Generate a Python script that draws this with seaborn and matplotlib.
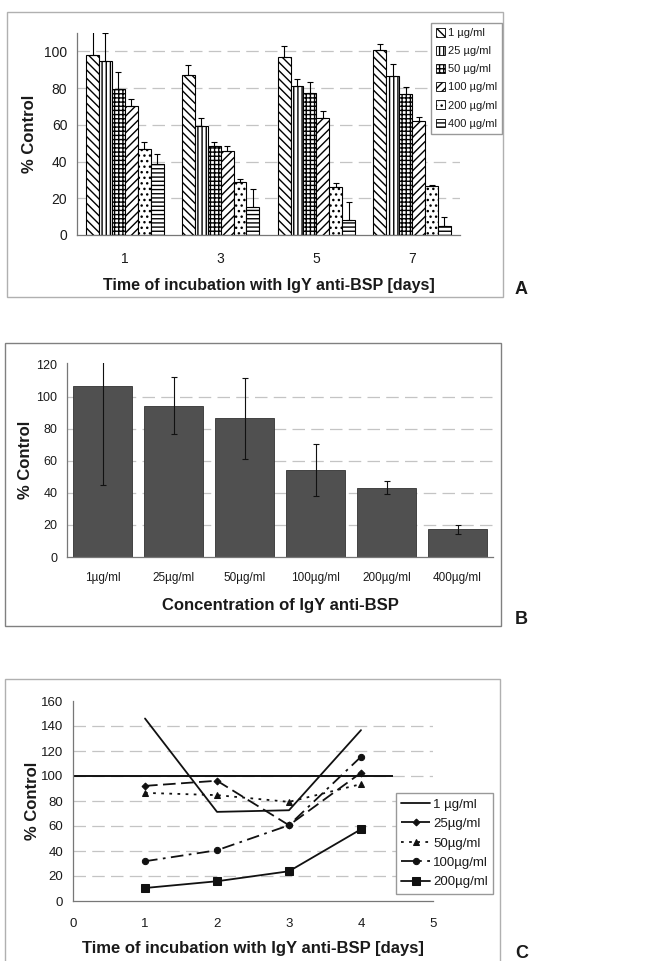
import matplotlib
matplotlib.use("Agg")
import matplotlib.pyplot as plt
from matplotlib.patches import Patch, Rectangle
import numpy as np
import pandas as pd
import seaborn as sns

# --- panel A: % control per day and concentration ---
days_a = ["1", "3", "5", "7"]
conc_a = ["1 µg/ml", "25 µg/ml", "50 µg/ml", "100 µg/ml", "200 µg/ml", "400 µg/ml"]
# one row per concentration, one column per day
pct_a = [
    [97.8, 87.3, 96.7, 100.9],
    [94.9, 59.5, 80.9, 86.7],
    [79.6, 48.5, 77.3, 76.7],
    [70.4, 45.8, 63.6, 62.2],
    [46.7, 28.7, 26.4, 26.7],
    [38.7, 15.5, 8.2, 4.9],
]
err_a = [
    [13.2, 5.4, 6.0, 3.1],
    [15.1, 4.1, 4.1, 6.6],
    [9.4, 2.4, 6.0, 3.8],
    [3.6, 2.9, 4.0, 2.3],
    [3.7, 1.7, 1.8, 0.4],
    [5.5, 9.5, 10.0, 4.7],
]
hatches_a = ["\\\\\\\\", "||||", "++++", "////", "...", "----"]

# --- panel B: mean over concentrations ---
conc_b = ["1µg/ml", "25µg/ml", "50µg/ml", "100µg/ml", "200µg/ml", "400µg/ml"]
pct_b = [106.6, 94.4, 86.6, 54.4, 43.3, 17.3]
sd_b = [61.6, 17.9, 25.3, 16.3, 4.0, 2.7]

# --- panel C: time course ---
days_c = [1, 2, 3, 4]
labels_c = ["1 µg/ml", "25µg/ml", "50µg/ml", "100µg/ml", "200µg/ml"]
c_1 = [146.0, 71.3, 72.6, 136.7]
c_25 = [92.1, 96.2, 60.6, 102.6]
c_50 = [86.5, 84.7, 79.3, 93.5]
c_100 = [31.8, 40.6, 60.6, 115.4]
c_200 = [10.4, 15.8, 23.8, 57.4]
ref_level = 100
ref_end = 4.45

sns.set_style("white")
plt.rcParams["font.family"] = ["Liberation Sans", "DejaVu Sans"]
plt.rcParams["hatch.linewidth"] = 1.0
plt.rcParams["text.color"] = "#1a1a1a"
plt.rcParams["axes.labelcolor"] = "#1a1a1a"
plt.rcParams["xtick.color"] = "#1a1a1a"
plt.rcParams["ytick.color"] = "#1a1a1a"

W, H = 654, 961
fig = plt.figure(figsize=(W / 100, H / 100), dpi=100)
fig.patch.set_facecolor("white")


def fig_axes(left, top, right, bottom):
    return fig.add_axes([left / W, 1 - bottom / H, (right - left) / W, (bottom - top) / H])


def frame(left, top, right, bottom, color):
    fig.patches.append(Rectangle((left / W, 1 - bottom / H), (right - left) / W, (bottom - top) / H,
                                 transform=fig.transFigure, fill=False, edgecolor=color, lw=1.0))


def style_axes(ax):
    sns.despine(ax=ax)
    for s in ["left", "bottom"]:
        ax.spines[s].set_color("#777777")
        ax.spines[s].set_linewidth(0.9)
    ax.set_axisbelow(True)
    ax.tick_params(axis="both", which="both", direction="out", color="#777777", length=3.5, width=0.8)


grid_kw = dict(color="#c4c4c4", lw=0.9, dashes=(10, 5))

# ---------------- A ----------------
frame(7, 12, 503, 297, "#b0b0b0")
ax = fig_axes(77, 33, 460, 235)
df_a = pd.DataFrame([(d, c, pct_a[i][j]) for i, c in enumerate(conc_a) for j, d in enumerate(days_a)],
                    columns=["day", "conc", "pct"])
sns.barplot(data=df_a, x="day", y="pct", hue="conc", order=days_a, hue_order=conc_a,
            palette=["white"] * len(conc_a), edgecolor="black", linewidth=0.8,
            width=0.81, gap=0, errorbar=None, legend=False, ax=ax)
bar_groups = list(ax.containers)
for i, cont in enumerate(bar_groups):
    xs, ys = [], []
    for p in cont.patches:
        p.set_hatch(hatches_a[i])
        xs.append(p.get_x() + p.get_width() / 2)
        ys.append(p.get_height())
    ax.errorbar(xs, ys, yerr=[np.zeros(len(ys)), err_a[i]], fmt="none",
                ecolor="black", elinewidth=0.8, capsize=2.5, capthick=0.8)
ax.set_ylim(0, 110)
ax.set_xlim(-0.5, len(days_a) - 0.5)
ax.set_yticks(range(0, 101, 20))
for v in range(20, 101, 20):
    ax.axhline(v, zorder=0, **grid_kw)
style_axes(ax)
ax.set_xticks(range(len(days_a)))
ax.set_xticks(np.arange(-0.5, len(days_a), 1), minor=True)
ax.tick_params(axis="x", which="major", length=0, labelsize=10, pad=12)
ax.tick_params(axis="y", labelsize=10)
ax.set_xlabel("Time of incubation with IgY anti-BSP [days]", fontsize=11.5, fontweight="bold", labelpad=9)
ax.set_ylabel("% Control", fontsize=12, fontweight="bold", labelpad=5)
handles_a = [Patch(facecolor="white", edgecolor="black", hatch=h, lw=0.6) for h in hatches_a]
fig.legend(handles_a, conc_a, loc="upper left", bbox_to_anchor=(431 / W, 1 - 23 / H),
           fontsize=8, frameon=True, fancybox=False, edgecolor="#999999", framealpha=1,
           handlelength=0.8, handleheight=0.8, handletextpad=0.25, labelspacing=0.72,
           borderpad=0.45, borderaxespad=0)
fig.text(515 / W, 1 - 290 / H, "A", fontsize=13, fontweight="bold", va="center")

# ---------------- B ----------------
frame(5, 343, 501, 626, "#808080")
ax = fig_axes(67, 363, 493, 557)
sns.barplot(x=conc_b, y=pct_b, color="#505050", saturation=1, edgecolor="#333333",
            linewidth=0.6, width=0.845, errorbar=None, ax=ax)
ax.errorbar(range(len(conc_b)), pct_b, yerr=sd_b, fmt="none", ecolor="#111111",
            elinewidth=0.8, capsize=2, capthick=0.8)
ax.set_ylim(0, 121)
ax.set_xlim(-0.5, len(conc_b) - 0.5)
ax.set_yticks(range(0, 121, 20))
for v in range(20, 101, 20):
    ax.axhline(v, zorder=0, **grid_kw)
style_axes(ax)
ax.set_xticks(np.arange(-0.5, len(conc_b), 1), minor=True)
ax.tick_params(axis="x", which="major", length=0, labelsize=8.5, pad=11)
ax.tick_params(axis="y", labelsize=9)
ax.set_xlabel("Concentration of IgY anti-BSP", fontsize=12, fontweight="bold", labelpad=10)
ax.set_ylabel("% Control", fontsize=12, fontweight="bold", labelpad=2)
fig.text(515 / W, 1 - 619 / H, "B", fontsize=13, fontweight="bold", va="center")

# ---------------- C ----------------
frame(5, 679, 500, 975, "#b0b0b0")
ax = fig_axes(73, 701, 433, 901)
series_c = [c_1, c_25, c_50, c_100, c_200]
dashes_c = [None, (7, 3), (1.5, 3), (7, 3, 1.5, 3), None]
markers_c = [None, "D", "^", "o", "s"]
sizes_c = [0, 3.5, 4.5, 4.5, 5.5]
ax.hlines(ref_level, 0, ref_end, color="#111111", lw=1.4, zorder=1)
handles_c = []
for lab, vals, dsh, mk, ms in zip(labels_c, series_c, dashes_c, markers_c, sizes_c):
    sns.lineplot(x=days_c, y=vals, ax=ax, color="#111111", lw=1.3, marker=mk, ms=ms,
                 markeredgecolor="#111111", legend=False)
    line = ax.lines[-1]
    if dsh is not None:
        line.set_dashes(dsh)
    handles_c.append(line)
ax.set_xlim(0, 5)
ax.set_ylim(0, 160)
ax.set_xticks(range(0, 6))
ax.set_yticks(range(0, 161, 20))
for v in range(20, 141, 20):
    ax.axhline(v, zorder=0, **grid_kw)
style_axes(ax)
ax.tick_params(axis="both", labelsize=9.5)
ax.tick_params(axis="x", pad=9)
ax.set_xlabel("Time of incubation with IgY anti-BSP [days]", fontsize=12, fontweight="bold", labelpad=8)
ax.set_ylabel("% Control", fontsize=12, fontweight="bold", labelpad=1)
fig.legend(handles_c, labels_c, loc="upper left", bbox_to_anchor=(396 / W, 1 - 793 / H),
           fontsize=9.5, frameon=True, fancybox=False, edgecolor="#999999", framealpha=1,
           handlelength=2.2, handletextpad=0.2, labelspacing=0.55, borderpad=0.4,
           borderaxespad=0)
fig.text(515 / W, 1 - 953 / H, "C", fontsize=13, fontweight="bold", va="center")

fig.savefig("out.png", dpi=100, facecolor="white")
